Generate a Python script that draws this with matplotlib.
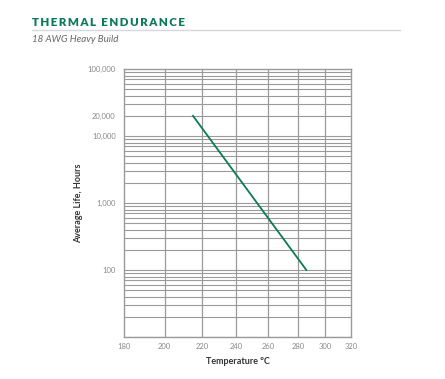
import numpy as np
import matplotlib
matplotlib.use("Agg")
import matplotlib.pyplot as plt
from matplotlib.ticker import FixedLocator, NullFormatter

# data
temps = [215, 286]
hours = [20000, 100]
x_ticks = [180, 200, 220, 240, 260, 280, 300, 320]
y_ticks = [100, 1000, 10000, 20000, 100000]
y_labels = ["100", "1,000", "10,000", "20,000", "100,000"]

green = "#0b7a58"
grid_c = "#9a9a9a"


# arrhenius style axis: 1/(T+273)
def fwd(t):
    return -1.0 / (np.asarray(t, dtype=float) + 273.15)


def inv(u):
    return -1.0 / np.asarray(u, dtype=float) - 273.15


fig = plt.figure(figsize=(4.45, 3.79), dpi=100)
plt.rcParams['font.family'] = ['Lato', 'DejaVu Sans']

ax = fig.add_axes([0.2787, 0.1108, 0.5101, 0.7071])
ax.set_xscale('function', functions=(fwd, inv))
ax.set_yscale('log')
ax.set_xlim(180, 320)
ax.set_ylim(10, 100000)

# graph paper lines
minor = []
for d in [10, 100, 1000, 10000]:
    for m in range(1, 10):
        minor.append(d * m)
for v in minor:
    ax.axhline(v, color=grid_c, lw=0.8, zorder=1)
for t in x_ticks[1:-1]:
    ax.axvline(t, color=grid_c, lw=0.9, zorder=1)

ax.plot(temps, hours, color=green, lw=1.3, zorder=3)

ax.xaxis.set_major_locator(FixedLocator(x_ticks))
ax.set_xticklabels([str(t) for t in x_ticks])
ax.xaxis.set_minor_locator(FixedLocator([]))
ax.yaxis.set_major_locator(FixedLocator(y_ticks))
ax.set_yticklabels(y_labels)
ax.yaxis.set_minor_formatter(NullFormatter())
ax.yaxis.set_minor_locator(FixedLocator([]))
ax.tick_params(length=0, labelsize=5.5, labelcolor="#8a8a8a")
ax.tick_params(axis='y', pad=6)
ax.tick_params(axis='x', pad=4)

for s in ax.spines.values():
    s.set_color(grid_c)
    s.set_linewidth(1.0)

ax.set_xlabel("Temperature °C", fontsize=6.5, fontweight='bold', color="#333333", labelpad=5)
ax.set_ylabel("Average Life, Hours", fontsize=6.5, fontweight='bold', color="#333333", labelpad=3)

# title with a little tracking
title = "THERMAL ENDURANCE"
tx = fig.text(32 / 445, 1 - 22 / 379, "\u2009".join(title).replace("\u2009 \u2009", "  "),
              fontsize=8.3, fontweight='heavy', color=green, va='center', ha='left')
fig.add_artist(plt.Line2D([32 / 445, 400 / 445], [1 - 30 / 379, 1 - 30 / 379],
                          color="#d8d8dc", lw=1.0))
fig.text(32 / 445, 1 - 40 / 379, "18 AWG Heavy Build", fontsize=7, style='italic',
         color="#666666", va='center', ha='left')

fig.savefig("out.png", dpi=100)
